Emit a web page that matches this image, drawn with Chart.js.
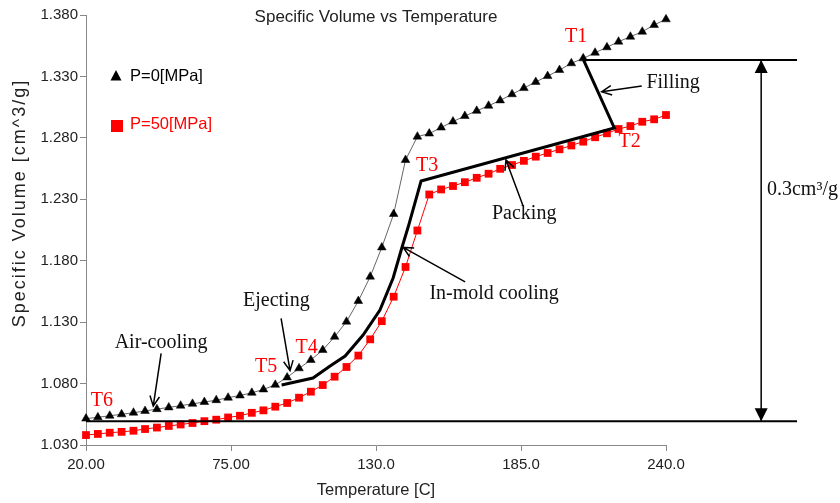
<!DOCTYPE html>
<html>
<head>
<meta charset="utf-8">
<script src="https://cdn.jsdelivr.net/npm/chart.js@4.4.1/dist/chart.umd.min.js"></script>
<style>
	html, body { margin: 0; padding: 0; background: #fff; }
	#wrap { width: 840px; height: 503px; }
</style>
</head>
<body>
<div id="wrap"><canvas id="chart" width="840" height="503"></canvas></div>
<script>
// temperature grid [C]
var temps = [20.0, 24.5, 29.0, 33.5, 38.0, 42.4, 46.9, 51.4, 55.9, 60.4,
	64.9, 69.4, 73.9, 78.4, 82.9, 87.3, 91.8, 96.3, 100.8, 105.3,
	109.8, 114.3, 118.8, 123.3, 127.8, 132.2, 136.7, 141.2, 145.7, 150.2,
	154.7, 159.2, 163.7, 168.2, 172.7, 177.1, 181.6, 186.1, 190.6, 195.1,
	199.6, 204.1, 208.6, 213.1, 217.6, 222.0, 226.5, 231.0, 235.5, 240.0];

// specific volume at P=0 MPa
var volP0 = [1.0515, 1.0525, 1.0538, 1.0550, 1.0563, 1.0577, 1.0592, 1.0606, 1.0620, 1.0635,
	1.0650, 1.0665, 1.0685, 1.0703, 1.0725, 1.0752, 1.0790, 1.0850, 1.0924, 1.0992,
	1.1073, 1.1181, 1.1304, 1.1472, 1.1670, 1.1908, 1.2180, 1.2620, 1.2810, 1.2835,
	1.2884, 1.2933, 1.2978, 1.3020, 1.3061, 1.3105, 1.3155, 1.3205, 1.3255, 1.3303,
	1.3352, 1.3407, 1.3447, 1.3493, 1.3537, 1.3583, 1.3623, 1.3664, 1.3719, 1.3765];

// specific volume at P=50 MPa
var volP50 = [1.0381, 1.0390, 1.0400, 1.0407, 1.0416, 1.0430, 1.0442, 1.0455, 1.0467, 1.0479,
	1.0494, 1.0506, 1.0524, 1.0538, 1.0562, 1.0582, 1.0612, 1.0642, 1.0685, 1.0734,
	1.0788, 1.0856, 1.0935, 1.1028, 1.1160, 1.1308, 1.1507, 1.1749, 1.2046, 1.2339,
	1.2380, 1.2408, 1.2439, 1.2475, 1.2508, 1.2548, 1.2579, 1.2613, 1.2647, 1.2677,
	1.2707, 1.2738, 1.2769, 1.2805, 1.2837, 1.2872, 1.2896, 1.2931, 1.2951, 1.2986];

// process path T1 -> T2 -> T3 -> T4 -> T5
var pathT = [208.7, 220.4, 147.1, 142.2, 139.9, 136.5, 131.5, 125.1, 118.3, 112.6, 106.1, 94.2];
var pathV = [1.3434, 1.2881, 1.2449, 1.2074, 1.1912, 1.1659, 1.1399, 1.1195, 1.1024, 1.0943, 1.0845, 1.0788];

// reference lines and the 0.3 cm3/g span
var topLineT = [208.7, 289.7];
var topLineV = [1.3434, 1.3434];
var baseLineT = [20.0, 289.7];
var baseLineV = [1.0493, 1.0493];
var spanT = [276.1, 276.1];
var spanV = [1.3434, 1.0493];

var xTicks = [20, 75, 130, 185, 240];
var xTickLabels = ['20.00', '75.00', '130.0', '185.0', '240.0'];
var yTicks = [1.03, 1.08, 1.13, 1.18, 1.23, 1.28, 1.33, 1.38];
var yTickLabels = ['1.030', '1.080', '1.130', '1.180', '1.230', '1.280', '1.330', '1.380'];

var seriesNames = ['P=0[MPa]', 'P=50[MPa]'];

// text labels, in data units
var stageLabels = [
	{ text: 'T1', t: 205.9, v: 1.3621 },
	{ text: 'T2', t: 226.2, v: 1.2766 },
	{ text: 'T3', t: 149.4, v: 1.2575 },
	{ text: 'T4', t: 103.7, v: 1.1094 },
	{ text: 'T5', t: 88.3, v: 1.0937 },
	{ text: 'T6', t: 26.0, v: 1.0658 }
];
var stepLabels = [
	{ text: 'Filling', t: 242.7, v: 1.3246 },
	{ text: 'Packing', t: 186.2, v: 1.2180 },
	{ text: 'In-mold cooling', t: 174.8, v: 1.1533 },
	{ text: 'Ejecting', t: 92.2, v: 1.1472 },
	{ text: 'Air-cooling', t: 48.5, v: 1.1130 }
];
// arrows: from (t0,v0) to tip (t1,v1)
var arrows = [
	[230.8, 1.3222, 215.6, 1.3176],
	[185.8, 1.2245, 179.3, 1.2620],
	[163.8, 1.1627, 140.3, 1.1908],
	[94.0, 1.1331, 97.4, 1.0905],
	[48.5, 1.1046, 45.5, 1.0617]
];

function toXY(xs, ys) {
	var out = [];
	for (var i = 0; i < xs.length; i++) {
		out.push({ x: xs[i], y: ys[i] });
	}
	return out;
}

var sansFont = '"Liberation Sans", Arial, sans-serif';
var serifFont = '"Liberation Serif", "Times New Roman", serif';

function drawOpenArrow(ctx, x0, y0, x1, y1) {
	var ang = Math.atan2(y1 - y0, x1 - x0);
	var len = 11, spread = 0.45;
	ctx.beginPath();
	ctx.moveTo(x0, y0);
	ctx.lineTo(x1, y1);
	ctx.moveTo(x1 - len * Math.cos(ang - spread), y1 - len * Math.sin(ang - spread));
	ctx.lineTo(x1, y1);
	ctx.lineTo(x1 - len * Math.cos(ang + spread), y1 - len * Math.sin(ang + spread));
	ctx.stroke();
}

var decorPlugin = {
	id: 'decor',
	afterDatasetsDraw: function (chart) {
		var ctx = chart.ctx;
		var xs = chart.scales.x, ys = chart.scales.y;
		var area = chart.chartArea;
		ctx.save();

		// chart title
		ctx.fillStyle = '#222';
		ctx.font = '17px ' + sansFont;
		ctx.textAlign = 'center';
		ctx.textBaseline = 'middle';
		ctx.fillText('Specific Volume vs Temperature', (area.left + area.right) / 2, 17);

		// y axis title
		ctx.save();
		ctx.translate(20, 203);
		ctx.rotate(-Math.PI / 2);
		ctx.font = '18px ' + sansFont;
		ctx.letterSpacing = '2px';
		ctx.fillStyle = '#222';
		ctx.fillText('Specific Volume [cm^3/g]', 0, 0);
		ctx.restore();

		// legend
		var lx = area.left + 30, ly = area.top + 61;
		ctx.fillStyle = '#000';
		ctx.beginPath();
		ctx.moveTo(lx, ly - 6);
		ctx.lineTo(lx + 5.5, ly + 4.5);
		ctx.lineTo(lx - 5.5, ly + 4.5);
		ctx.closePath();
		ctx.fill();
		ctx.font = '16.5px ' + sansFont;
		ctx.textAlign = 'left';
		ctx.fillText(seriesNames[0], lx + 14, ly);
		ctx.fillStyle = '#f00';
		ctx.fillRect(lx - 5, ly + 44, 12, 12);
		ctx.fillText(seriesNames[1], lx + 14, ly + 48);

		// arrows
		ctx.strokeStyle = '#000';
		ctx.lineWidth = 1.5;
		arrows.forEach(function (a) {
			drawOpenArrow(ctx, xs.getPixelForValue(a[0]), ys.getPixelForValue(a[1]),
				xs.getPixelForValue(a[2]), ys.getPixelForValue(a[3]));
		});

		// span arrow heads
		var sx = xs.getPixelForValue(spanT[0]);
		var sTop = ys.getPixelForValue(spanV[0]), sBot = ys.getPixelForValue(spanV[1]);
		ctx.fillStyle = '#000';
		ctx.beginPath();
		ctx.moveTo(sx, sTop);
		ctx.lineTo(sx + 6.5, sTop + 13);
		ctx.lineTo(sx - 6.5, sTop + 13);
		ctx.closePath();
		ctx.fill();
		ctx.beginPath();
		ctx.moveTo(sx, sBot);
		ctx.lineTo(sx + 6.5, sBot - 13);
		ctx.lineTo(sx - 6.5, sBot - 13);
		ctx.closePath();
		ctx.fill();

		// step labels
		ctx.font = '20px ' + serifFont;
		ctx.textAlign = 'center';
		ctx.textBaseline = 'middle';
		ctx.fillStyle = '#111';
		stepLabels.forEach(function (l) {
			ctx.fillText(l.text, xs.getPixelForValue(l.t), ys.getPixelForValue(l.v));
		});
		ctx.textAlign = 'left';
		ctx.textBaseline = 'alphabetic';
		ctx.fillText('0.3cm\u00B3/g', xs.getPixelForValue(278.3), ys.getPixelForValue(1.2335));

		// stage labels
		ctx.fillStyle = '#f00';
		ctx.textAlign = 'center';
		ctx.textBaseline = 'middle';
		stageLabels.forEach(function (l) {
			ctx.fillText(l.text, xs.getPixelForValue(l.t), ys.getPixelForValue(l.v));
		});

		ctx.restore();
	}
};

var ctx = document.getElementById('chart').getContext('2d');
var chart = new Chart(ctx, {
	type: 'scatter',
	data: {
		datasets: [
			{
				label: seriesNames[0],
				data: toXY(temps, volP0),
				showLine: true,
				borderColor: '#666',
				borderWidth: 1,
				pointStyle: 'triangle',
				pointRadius: 5,
				pointBackgroundColor: '#000',
				pointBorderColor: '#000',
				pointBorderWidth: 0.5,
				clip: false,
				order: 2
			},
			{
				label: seriesNames[1],
				data: toXY(temps, volP50),
				showLine: true,
				borderColor: '#f00',
				borderWidth: 1,
				pointStyle: 'rect',
				pointRadius: 5.5,
				pointBackgroundColor: '#f00',
				pointBorderColor: '#f00',
				pointBorderWidth: 0,
				clip: false,
				order: 3
			},
			{
				label: 'path',
				data: toXY(pathT, pathV),
				showLine: true,
				borderColor: '#000',
				borderWidth: 3,
				pointRadius: 0,
				borderJoinStyle: 'miter',
				clip: false,
				order: 1
			},
			{
				label: 'top',
				data: toXY(topLineT, topLineV),
				showLine: true,
				borderColor: '#000',
				borderWidth: 2,
				pointRadius: 0,
				clip: false,
				order: 1
			},
			{
				label: 'base',
				data: toXY(baseLineT, baseLineV),
				showLine: true,
				borderColor: '#000',
				borderWidth: 2,
				pointRadius: 0,
				clip: false,
				order: 1
			},
			{
				label: 'span',
				data: toXY(spanT, spanV),
				showLine: true,
				borderColor: '#000',
				borderWidth: 1.5,
				pointRadius: 0,
				clip: false,
				order: 1
			}
		]
	},
	options: {
		responsive: false,
		animation: false,
		events: [],
		layout: { padding: { left: 0, right: 174, top: 15, bottom: 0 } },
		plugins: {
			legend: { display: false },
			tooltip: { enabled: false },
			title: { display: false }
		},
		scales: {
			x: {
				type: 'linear',
				min: 20,
				max: 240,
				afterBuildTicks: function (scale) {
					scale.ticks = xTicks.map(function (v) { return { value: v }; });
				},
				afterFit: function (scale) { scale.height = 58; },
				grid: { drawOnChartArea: false, drawTicks: true, tickLength: 6, color: '#888' },
				border: { display: true, color: '#888', width: 1 },
				ticks: {
					padding: 5,
					maxRotation: 0,
					color: '#222',
					font: { family: sansFont, size: 15 },
					callback: function (v) {
						var i = xTicks.indexOf(v);
						return i >= 0 ? xTickLabels[i] : '';
					}
				},
				title: {
					display: true,
					text: 'Temperature [C]',
					color: '#222',
					font: { family: sansFont, size: 16.5 },
					padding: { top: 4, bottom: 3 }
				}
			},
			y: {
				type: 'linear',
				min: 1.03,
				max: 1.38,
				afterBuildTicks: function (scale) {
					scale.ticks = yTicks.map(function (v) { return { value: v }; });
				},
				afterFit: function (scale) { scale.width = 86; },
				grid: { drawOnChartArea: false, drawTicks: true, tickLength: 6, color: '#888' },
				border: { display: true, color: '#888', width: 1 },
				ticks: {
					padding: 2,
					color: '#222',
					font: { family: sansFont, size: 15 },
					callback: function (v) {
						for (var i = 0; i < yTicks.length; i++) {
							if (Math.abs(yTicks[i] - v) < 1e-6) return yTickLabels[i];
						}
						return '';
					}
				}
			}
		}
	},
	plugins: [decorPlugin]
});
</script>
</body>
</html>
